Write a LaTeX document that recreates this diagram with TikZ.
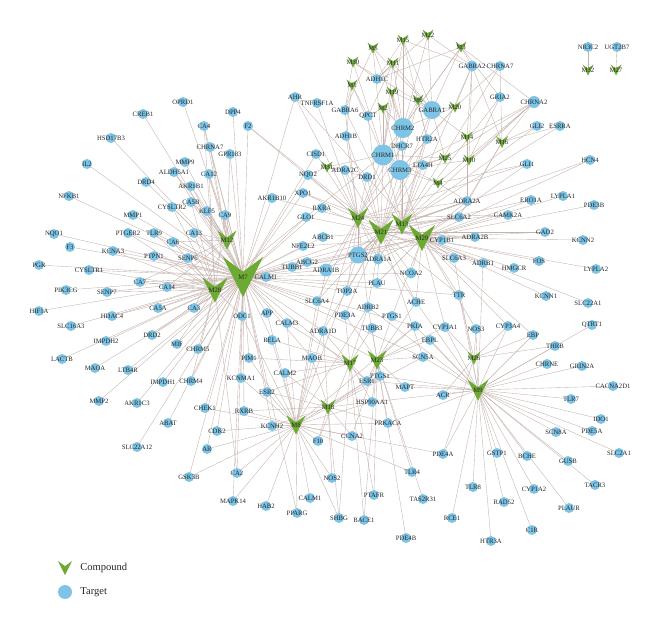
\documentclass[tikz,border=0pt]{standalone}
\usepackage{fontspec}
\setmainfont{Liberation Serif}
\usepackage{tikz}
\usetikzlibrary{positioning}
\pgfdeclarelayer{bg}
\pgfsetlayers{bg,main}
\definecolor{tblue}{RGB}{125,196,230}
\definecolor{cgreen}{RGB}{108,170,52}
\definecolor{linkc}{RGB}{196,178,172}

\begin{document}
\begin{tikzpicture}[
    x=0.03cm, y=-0.03cm,
    tgt/.style={circle, fill=tblue, inner sep=0pt, minimum size=#1*0.3mm},
    tgt/.default=10,
    tl/.style={inner sep=0pt, font=\fontsize{5.7}{6}\selectfont, text=black!85},
    cmp/.style={minimum size=#1*0.3mm, inner sep=0pt, font=\fontsize{5.7}{6}\selectfont, text=black!85,
                path picture={\fill[cgreen]
                  ([shift={({-#1*0.15mm},{#1*0.15mm})}]path picture bounding box.center)
                  -- ([shift={(0,{-#1*0.15mm})}]path picture bounding box.center)
                  -- ([shift={({#1*0.15mm},{#1*0.15mm})}]path picture bounding box.center)
                  -- ([shift={(0,{#1*0.04mm})}]path picture bounding box.center) -- cycle;}},
    link/.style={draw=linkc, line width=0.32pt},
    legtxt/.style={font=\fontsize{9}{10}\selectfont, text=black!85}
  ]
    \useasboundingbox (0,0) rectangle (660,630);

    \foreach \n/\x/\y in {OPRD1/183/102, CREB1/143/114, CA4/204/126, HSD17B3/111/138, CHRNA7/210/147,
        DPP4/233/112, F2/248/126, GPR183/230/154, AHR/295/97, TNFRSF1A/317/103, GABRA6/345/110,
        QPCT/368/116, ADH1C/377/79, ADH1B/346/136, HTR2A/427/139, DHCR7/402/146, CISD1/316/154,
        LTA4H/423/165, GRIA2/500/97, GLI2/537/126, ESRRA/560/126, NR3C2/588/47, UGT2B7/617/47,
        HCN4/590/160, GLI1/527/164, IL2/87/164, MMP9/185/162, ALDH5A1/174/172, CA12/209/174,
        DRD4/146/182, AKR1B1/191/186, NFKB1/69/196, CA5B/191/202, CYSLTR2/172/207, KLF5/207/211,
        MMP1/133/215, CA9/225/215, NQO1/54/234, PTGER2/128/233, TLR9/154/233, CA13/194/233,
        CA6/173/242, F3/70/247, KCNA3/113/251, PTPN1/154/256, SENP6/188/258, PGR/39/265,
        CYSLTR1/89/270, CA7/140/282, PIK3CG/66/290, SENP7/107/292, CA14/167/287, HIF1A/39/311,
        CA5A/158/308, CA3/194/308, HDAC4/112/316, SLC16A3/71/326, IMPDH2/106/341, DRD2/152/335,
        MIF/177/344, CHRM5/198/349, LACTB/62/359, MAOA/95/368, LTB4R/128/370, IMPDH1/163/382,
        CHRM4/191/381, MMP2/99/401, AKR1C3/137/403, CHEK1/205/408, ABAT/168/423, CDK2/217/431,
        SLC22A12/137/447, AR/207/449, GSK3B/189/477, NQO2/308/175, ADRA2C/345/170, DRD1/367/177,
        AKR1B10/272/198, XPO1/303/193, RXRA/322/208, GLO1/306/217, ABCB1/323/237, NFE2L2/303/246,
        ABCG2/307/262, TUBB1/292/267, CALM1/266/277, PLAU/377/283, TOP2A/347/291, SLC6A4/317/301,
        ACHE/416/302, ADRB2/368/307, APP/267/313, ODC1/242/316, PDE3A/345/315, PTGS1/392/316,
        ADRA2A/467/201, ERO1A/531/200, LYPLA1/563/196, PDE3B/594/205, SLC6A2/459/217,
        CAMK2A/508/215, GAD2/545/232, CYP1B1/442/240, ADRA2B/475/237, KCNN2/583/240,
        SLC6A3/454/258, ADRB1/483/263, FOS/539/261, HMGCR/514/268, LYPLA2/596/269, TTR/459/295,
        KCNN1/546/296, SLC22A1/588/303, CALM3/287/323, ADRA1D/323/331, TUBB3/372/328,
        PKIA/415/326, RELA/272/340, EBPL/430/340, PIM1/249/358, MAOB/312/358, SCN5A/423/357,
        KCNMA1/241/378, CALM2/285/373, ESR1/367/381, MAPT/405/387, ESR2/267/392,
        HSP90AA1/372/402, RXRB/244/411, KCNH2/272/426, PRKACA/388/423, F10/318/441,
        CCNA2/352/436, CA2/237/473, TLR4/412/472, NOS2/332/478, CYP1A1/445/327, NOS3/476/329,
        CYP3A4/508/326, EBP/533/335, QTRT1/592/325, THRB/555/346, CHRNE/547/364, GRIN2A/582/366,
        CACNA2D1/613/386, ACR/443/395, TLR7/571/399, IDO1/601/419, SCN8A/556/432, PDE5A/592/431,
        PDE4A/443/454, GSTP1/497/453, BCHE/527/456, SLC2A1/619/453, GUSB/568/461,
        MAPK14/233/501, HAB2/266/506, PPARG/297/513, PTAFR/374/495, TAS2R31/423/499,
        SHBG/339/518, BACE1/364/520, PDE4B/406/538, TLR8/473/487, RAD52/504/502,
        CYP1A2/534/489, TACR3/595/485, PLAUR/569/508, RCE1/452/518, C1R/532/530, HTR3A/491/541}
      {\node[tgt] (\n) at (\x,\y) {};
       \node[tl] at (\n) {\n};}

    \foreach \n/\x/\y/\s in {CHRM2/403/128/20, CHRM1/383/155/21, CHRM3/400/170/20,
        GABRA1/432/110/18, PTGS2/358/255/17, ADRA1B/326/270/13, ADRA1A/378/259/11,
        NCOA2/411/273/11, GABRA2/472/66/11, CHRNA2/534/102/12}
      {\node[tgt=\s] (\n) at (\x,\y) {};
       \node[tl] at (\n) {\n};}

    \foreach \n/\x/\y/\t in {CHRNA7b/500/66/CHRNA7, CALM1b/310/498/CALM1, PTGS1b/380/376/PTGS1}
      {\node[tgt] (\n) at (\x,\y) {};
       \node[tl] at (\n) {\t};}

    \foreach \n/\x/\y/\s in {M7/243/277/40, M28/215/290/25, M12/227/240/19, M24/358/218/20,
        M21/381/232/25, M13/402/224/21, M29/422/238/26, M9/478/390/21, M8/296/425/19,
        M17/350/363/17, M23/377/360/19, M18/328/407/15, M26/474/358/13, M5/373/48/11,
        M15/403/40/11, M22/428/35/11, M3/461/47/11, M30/353/62/11, M11/393/63/11,
        M1/352/85/11, M19/392/92/11, M6/418/100/11, M2/383/108/11, M20/455/107/11,
        M14/467/137/11, M16/502/142/12, M25/445/158/11, M10/469/160/11, M4/438/183/11,
        M31/327/167/11, M32/588/70/11, M27/616/70/11}
      {\node[cmp=\s] (\n) at (\x,\y) {\n};}

    \begin{pgfonlayer}{bg}
    \foreach \c/\lst in {
        M5/{GABRA6,CHRM1,CHRM2,GABRA1},
        M15/{CHRM2,GABRA1,ADH1C,GABRA2,CHRM1,HTR2A},
        M22/{GABRA1,CHRM2,GABRA2,ADH1C},
        M3/{GABRA2,GABRA1,CHRM2,CHRNA2,GRIA2,CHRM1,ADH1C},
        M30/{ADH1C,GABRA6,CHRM1,GABRA1},
        M11/{ADH1C,CHRM2,GABRA1,QPCT,CHRM1},
        M1/{GABRA6,ADH1B,CHRM1,QPCT},
        M19/{CHRM2,CHRM1,GABRA1,DHCR7,CHRM3},
        M6/{GABRA1,CHRM2,HTR2A,CHRM3},
        M2/{CHRM2,CHRM1,QPCT,CHRM3},
        M20/{GABRA1,GABRA2,CHRNA7b,CHRM2,CHRM3,HTR2A},
        M14/{GABRA2,CHRNA2,GABRA1,CHRM3,ADRA2A},
        M16/{CHRNA2,GLI2,GABRA2,CHRNA7b,ESRRA,ADRA2A,SLC6A2},
        M25/{CHRM3,GABRA1,CHRNA2,LTA4H,CHRM1},
        M10/{CHRNA2,GRIA2,CHRM3,GABRA2},
        M4/{CHRM3,CHRNA2,GLI1,ADRA2A,CHRM1},
        M31/{NQO2,ADRA2C,CHRM1,DRD1},
        M32/{NR3C2}, M27/{UGT2B7},
        M24/{CHRM1,CHRM2,CHRM3,DRD1,ADRA2C,ADRA1A,ADRA1B,PTGS2,HTR2A,DHCR7,ADH1B,GABRA6,CISD1,
             TNFRSF1A,AHR,F2,XPO1,NQO2,SLC6A4,ADRB2,ADRA1D,ACHE,TOP2A,ADRA2A,GLI1,CAMK2A},
        M21/{CHRM1,CHRM2,CHRM3,DRD1,ADRA2C,ADRA1A,ADRA1B,ADRA1D,ADRA2A,ADRA2B,SLC6A2,SLC6A3,
             SLC6A4,HTR2A,ADRB1,ADRB2,PTGS2,ACHE,TOP2A,PLAU,GABRA1,LTA4H,NCOA2,ERO1A,GAD2,F2,
             QPCT,ADH1B,TTR,PDE3A,SCN5A,RXRA,GLO1,ABCB1},
        M13/{CHRM1,CHRM2,CHRM3,GABRA1,GABRA2,GABRA6,DHCR7,HTR2A,LTA4H,ADRA2A,SLC6A2,SLC6A3,
             CAMK2A,ADRA1A,PTGS2,CHRNA2,CHRNA7b,GLI2,GRIA2,HCN4,ESRRA},
        M29/{CYP1B1,NCOA2,PTGS2,LYPLA1,LYPLA2,PDE3B,KCNN2,KCNN1,SLC22A1,HMGCR,FOS,GAD2,CAMK2A,
             ERO1A,HCN4,GLI1,TTR,CYP1A1,NOS3,ADRA2A,ADRA2B,ADRB1,SLC6A3,PTGS1,ACHE,AHR,CHRM3,
             ADRA1A,PLAU,CYP3A4,EBP,TUBB1,NFE2L2,ABCG2,AKR1B10,XPO1},
        M7/{OPRD1,CREB1,CA4,HSD17B3,CHRNA7,DPP4,F2,GPR183,MMP9,ALDH5A1,CA12,DRD4,AKR1B1,IL2,
            NFKB1,CA5B,CYSLTR2,KLF5,MMP1,CA9,NQO1,PTGER2,TLR9,CA13,CA6,F3,KCNA3,PTPN1,SENP6,PGR,
            CYSLTR1,CA7,PIK3CG,SENP7,CA14,HIF1A,CA5A,CA3,HDAC4,SLC16A3,IMPDH2,DRD2,MIF,CHRM5,
            LACTB,MAOA,LTB4R,IMPDH1,CHRM4,MMP2,AKR1C3,CHEK1,ABAT,CDK2,SLC22A12,AR,GSK3B,CA2,
            MAPK14,AHR,CISD1,AKR1B10,XPO1,NQO2,GLO1,RXRA,NFE2L2,ABCB1,ABCG2,TUBB1,CALM1,APP,
            ODC1,PIM1,RELA,CALM3,KCNMA1,RXRB,ESR2,KCNH2,ADRA1B,PTGS2,ADRA1A,NCOA2,CYP1B1,
            ADRA2A,SLC6A2,TTR,PKIA,SCN5A,SLC6A4,PDE3A,TOP2A,PLAU,ADRA1D,MAOB,ESR1,PPARG},
        M28/{CA3,CA5A,CA14,CA7,CA6,CA13,CA12,CA9,CA4,CA5B,CA2,SENP6,SENP7,CYSLTR1,CYSLTR2,
             KCNA3,PTPN1,TLR9,PTGER2,CHRM5,CHRM4,DRD2,HDAC4,MIF,CALM1,ODC1,CHRM1},
        M12/{CA9,CA12,CA13,CA4,CA5B,CA6,KLF5,AKR1B1,GPR183,CHRNA7,CA14,CA7,CA3,ALDH5A1},
        M8/{KCNH2,RXRB,ESR2,KCNMA1,PIM1,CALM2,CALM3,RELA,CA2,MAPK14,HAB2,PPARG,CALM1b,NOS2,F10,
            CCNA2,GSK3B,CDK2,CHEK1,AR,MAOB,ADRA1D,APP,ODC1,ESR1,HSP90AA1,PRKACA,ADRA1B,SLC6A4,
            PTGS2,SHBG,TLR4,PDE4A,ADRB2,PKIA,SCN5A},
        M18/{ESR1,ESR2,HSP90AA1,CCNA2,NOS2,SHBG,MAOB,CALM2,KCNH2,F10,PTGS1b,PRKACA,ADRA1D,RXRB},
        M17/{MAOB,ADRA1D,CALM2,ESR1,HSP90AA1,PTAFR,SHBG,BACE1,PDE3A,TUBB3,ADRB2,CALM3,RELA,
             PIM1,ESR2,F10},
        M23/{PTGS1b,PTGS1,ESR1,SCN5A,MAPT,PRKACA,TLR4,TAS2R31,PDE4B,BACE1,PTAFR,HSP90AA1,PKIA,
             EBPL,TUBB3,CYP1A1,ACHE,ADRB2,PDE3A,ADRA1D,CCNA2},
        M26/{CYP3A4,THRB,EBP,NOS3,CYP1A1,TTR,ACR,PDE4A},
        M9/{THRB,QTRT1,CHRNE,GRIN2A,CACNA2D1,TLR7,IDO1,PDE5A,SCN8A,SLC2A1,GUSB,BCHE,GSTP1,
            PDE4A,RCE1,TLR8,HTR3A,RAD52,C1R,CYP1A2,PLAUR,TACR3,ACR,CYP3A4,EBP,NOS3,CYP1A1,TTR,
            SCN5A,PTGS1b,ESR1,MAPT,HSP90AA1,PRKACA,ADRB2,ADRB1,SLC6A3,PKIA,EBPL,ACHE}}
      {\foreach \n in \lst \draw[link] (\c.center) -- (\n.center);}
    \end{pgfonlayer}

    \node[cmp=14] (legcmp) at (65,568) {};
    \node[legtxt, right=1.2mm of legcmp] (legcmptxt) {Compound};
    \node[tgt=14] (legtgt) at (65,592) {};
    \node[legtxt, right=1.2mm of legtgt] (legtgttxt) {Target};
\end{tikzpicture}
\end{document}
